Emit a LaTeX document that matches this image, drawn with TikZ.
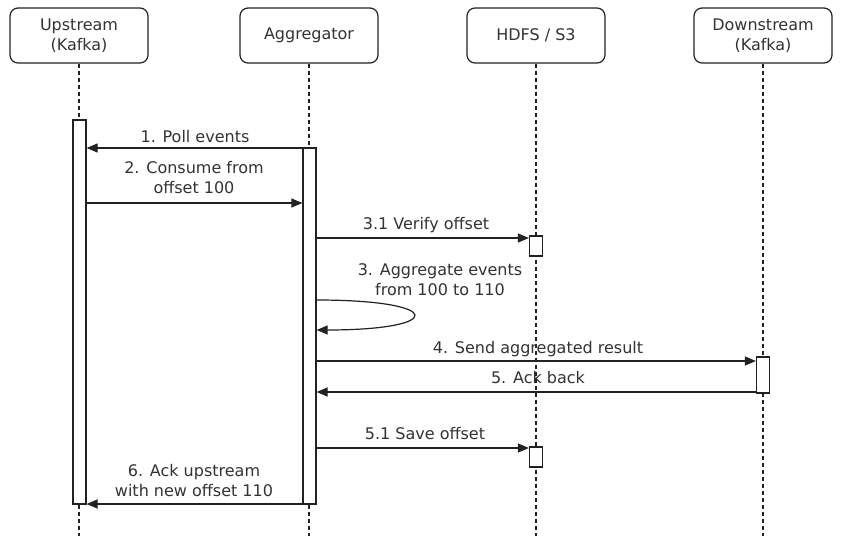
\documentclass[tikz,border=0pt]{standalone}
\usepackage{fontspec}
\setmainfont{DejaVu Sans}
\usetikzlibrary{arrows.meta}
\definecolor{ink}{HTML}{222222}
\definecolor{txt}{HTML}{333333}
\begin{document}
\begin{tikzpicture}[x=1pt,y=-1pt,
  head/.style={draw=ink, line width=1.2pt, rounded corners=8pt, minimum width=138pt, minimum height=55pt, align=center, text=txt, font=\fontsize{16}{20}\selectfont, inner sep=0pt},
  life/.style={draw=ink, line width=1.2pt, dash pattern=on 4pt off 3pt},
  act/.style={draw=ink, fill=white, line width=1.2pt, minimum width=13pt, inner sep=0pt},
  msg/.style={draw=ink, line width=1.2pt, -{Triangle[length=11pt,width=9pt]}},
  lbl/.style={font=\fontsize{16}{20}\selectfont, text=txt, align=center, inner sep=0pt, anchor=base}
]
\fill[white] (0,0) rectangle (841,536);
\useasboundingbox (0,0) rectangle (841,536);

% headers
\node[head] (up) at (79,35.5) {Upstream\\(Kafka)};
\node[head] (ag) at (309,35.5) {Aggregator};
\node[head] (hd) at (536,35.5) {HDFS / S3};
\node[head] (dn) at (763,35.5) {Downstream\\(Kafka)};

% lifelines
\coordinate (upE) at (79,536);
\coordinate (agE) at (309,536);
\coordinate (hdE) at (536,536);
\coordinate (dnE) at (763,536);
\draw[life] (up) -- (upE);
\draw[life] (ag) -- (agE);
\draw[life] (hd) -- (hdE);
\draw[life] (dn) -- (dnE);

% activations
\node[act, minimum height=384pt] (upA) at (79.5,312) {};
\node[act, minimum height=356pt] (agA) at (309.5,326) {};
\node[act, minimum height=20pt] (hdA1) at (536,246) {};
\node[act, minimum height=20pt] (hdA2) at (536,457) {};
\node[act, minimum height=36pt] (dnA) at (763,375) {};

% messages
\draw[msg] (agA.west |- 0,148) -- (upA.east |- 0,148);
\node[lbl] (l1) at (195,142) {1. Poll events};

\draw[msg] (upA.east |- 0,203) -- (agA.west |- 0,203);
\node[lbl] (l2) at (194,193) {2. Consume from\\offset 100};

\draw[msg] (agA.east |- 0,238) -- (hdA1.west |- 0,238);
\node[lbl] (l31) at (426,229) {3.1 Verify offset};

\coordinate (s1) at (agA.east |- 0,300);
\coordinate (s2) at (agA.east |- 0,330);
\draw[msg] (s1) .. controls (446,300) and (446,330) .. (s2);
\node[lbl] (l3) at (440,295) {3. Aggregate events\\from 100 to 110};

\draw[msg] (agA.east |- 0,361) -- (dnA.west |- 0,361);
\node[lbl] (l4) at (538,353) {4. Send aggregated result};

\draw[msg] (dnA.west |- 0,392) -- (agA.east |- 0,392);
\node[lbl] (l5) at (538,383) {5. Ack back};

\draw[msg] (agA.east |- 0,448) -- (hdA2.west |- 0,448);
\node[lbl] (l51) at (425,439) {5.1 Save offset};

\draw[msg] (agA.west |- 0,504) -- (upA.east |- 0,504);
\node[lbl] (l6) at (194,496) {6. Ack upstream\\with new offset 110};
\end{tikzpicture}
\end{document}
